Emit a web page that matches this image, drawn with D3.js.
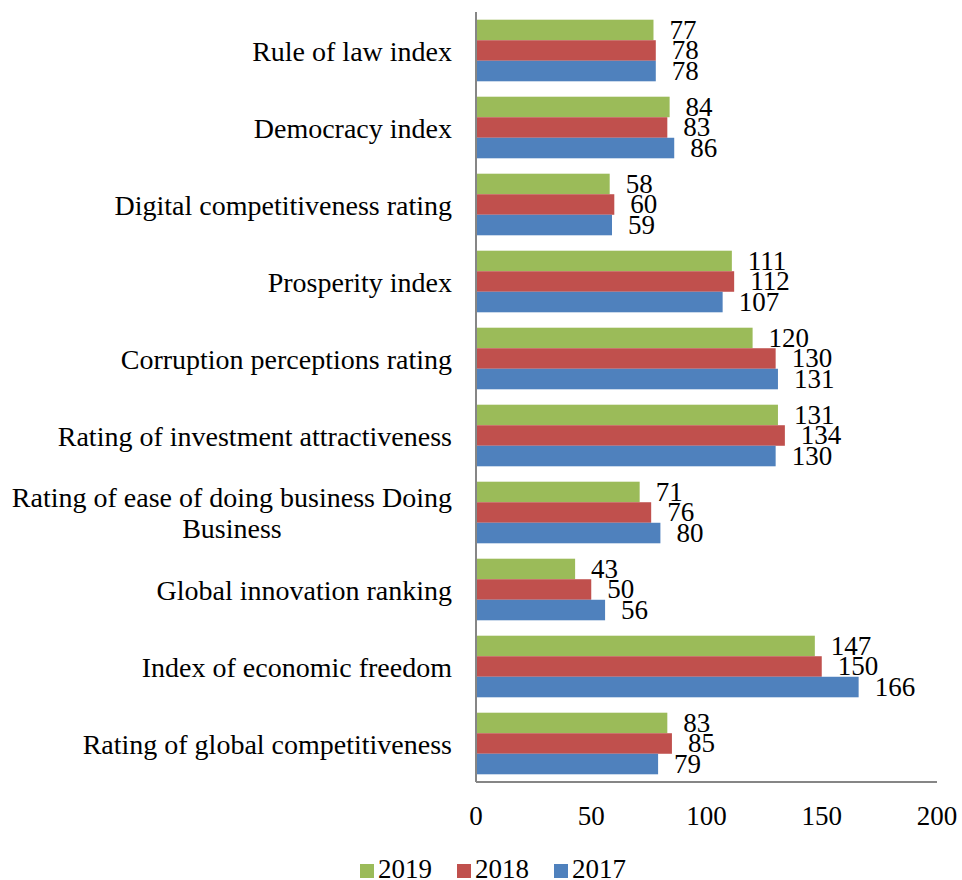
<!DOCTYPE html>
<html>
<head>
<meta charset="utf-8">
<script src="https://cdnjs.cloudflare.com/ajax/libs/d3/7.8.5/d3.min.js"></script>
<style>
  body { margin: 0; background: #fff; }
  svg text { font-family: "Liberation Serif", "Times New Roman", serif; fill: #000; }
</style>
</head>
<body>
<div id="chart"></div>
<script>
// categories top to bottom, as in the picture
var categories = [
  "Rule of law index",
  "Democracy index",
  "Digital competitiveness rating",
  "Prosperity index",
  "Corruption perceptions rating",
  "Rating of investment attractiveness",
  "Rating of ease of doing business Doing|Business",
  "Global innovation ranking",
  "Index of economic freedom",
  "Rating of global competitiveness"
];
var years = ["2019", "2018", "2017"];
var values2019 = [77, 84, 58, 111, 120, 131, 71, 43, 147, 83];
var values2018 = [78, 83, 60, 112, 130, 134, 76, 50, 150, 85];
var values2017 = [78, 86, 59, 107, 131, 130, 80, 56, 166, 79];
var colors = ["#9bbb59", "#c0504d", "#4f81bd"];
var xTicks = [0, 50, 100, 150, 200];

var series = [values2019, values2018, values2017];

var width = 962, height = 880;
var plotLeft = 476, plotRight = 937, plotTop = 12, plotBottom = 782;

var svg = d3.select("#chart").append("svg")
  .attr("width", width)
  .attr("height", height);

var x = d3.scaleLinear().domain([0, 200]).range([plotLeft, plotRight]);
var y0 = d3.scaleBand().domain(categories).range([plotTop, plotBottom]).paddingInner(0.2).paddingOuter(0.1);
var y1 = d3.scaleBand().domain(years).range([0, y0.bandwidth()]);

var rows = categories.map(function(c, i){
  return {
    cat: c,
    bars: years.map(function(yr, j){
      return {year: yr, value: series[j][i], color: colors[j]};
    })
  };
});

var groups = svg.selectAll("g.group")
  .data(rows)
  .enter()
  .append("g")
  .classed("group", true)
  .attr("transform", function(d){
    return "translate(0," + y0(d.cat) + ")";
  });

groups.selectAll("rect")
  .data(function(d){ return d.bars; })
  .enter()
  .append("rect")
  .attr("x", x(0))
  .attr("y", function(d){ return y1(d.year); })
  .attr("width", function(d){ return x(d.value) - x(0); })
  .attr("height", y1.bandwidth())
  .attr("fill", function(d){ return d.color; });

groups.selectAll("text.val")
  .data(function(d){ return d.bars; })
  .enter()
  .append("text")
  .classed("val", true)
  .attr("x", function(d){ return x(d.value) + 16; })
  .attr("y", function(d){ return y1(d.year) + y1.bandwidth() / 2 + 9; })
  .style("font-size", "27px")
  .text(function(d){ return d.value; });

// axes lines (no tick marks)
svg.append("line")
  .attr("x1", plotLeft).attr("x2", plotLeft)
  .attr("y1", plotTop).attr("y2", plotBottom)
  .attr("stroke", "#868686").attr("stroke-width", 2);
svg.append("line")
  .attr("x1", plotLeft).attr("x2", plotRight)
  .attr("y1", plotBottom).attr("y2", plotBottom)
  .attr("stroke", "#868686").attr("stroke-width", 2);

svg.selectAll("text.tick")
  .data(xTicks)
  .enter()
  .append("text")
  .classed("tick", true)
  .attr("x", function(d){ return x(d); })
  .attr("y", 825)
  .attr("text-anchor", "middle")
  .style("font-size", "27px")
  .text(function(d){ return d; });

// category labels, multi-line ones centred on the longest line
var catLabels = svg.selectAll("g.cat")
  .data(categories)
  .enter()
  .append("g")
  .classed("cat", true);

catLabels.each(function(c){
  var g = d3.select(this);
  var lines = c.split("|");
  var mid = y0(c) + y0.bandwidth() / 2;
  var lineH = 31;
  var texts = lines.map(function(l, i){
    return g.append("text")
      .attr("y", mid + (i - (lines.length - 1) / 2) * lineH + 10)
      .style("font-size", "28px")
      .text(l);
  });
  var maxW = d3.max(texts, function(t){ return t.node().getComputedTextLength(); });
  var cx = plotLeft - 24 - maxW / 2;
  texts.forEach(function(t){
    t.attr("x", cx).attr("text-anchor", "middle");
  });
});

// legend
var legend = svg.selectAll("g.legend")
  .data(years)
  .enter()
  .append("g")
  .classed("legend", true)
  .attr("transform", function(d, i){
    return "translate(" + (360 + i * 97) + ",864)";
  });
legend.append("rect")
  .attr("width", 14).attr("height", 14)
  .attr("fill", function(d, i){ return colors[i]; });
legend.append("text")
  .attr("x", 18)
  .attr("y", 14)
  .style("font-size", "27px")
  .text(function(d){ return d; });
</script>
</body>
</html>
